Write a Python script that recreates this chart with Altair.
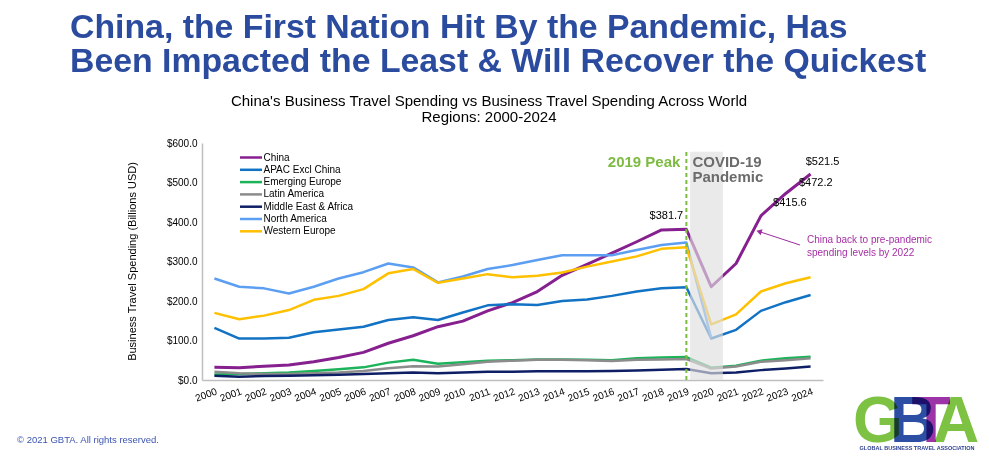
import altair as alt
import pandas as pd

FONT = "Liberation Sans"

years = list(range(2000, 2025))
series_names = ["China", "APAC Excl China", "Emerging Europe", "Latin America",
                "Middle East & Africa", "North America", "Western Europe"]
series_colors = ["#86208f", "#1272c4", "#1db35a", "#8c8c8c", "#0f1f66", "#5c9ff2", "#ffc000"]

china = [32, 31, 35, 38, 46, 57, 70, 93, 112, 135, 149, 175, 196, 224, 265, 293, 321, 350, 380,
         381.7, 236, 295, 415.6, 472.2, 521.5]
apac = [132, 105, 105, 107, 121, 128, 135, 152, 159, 152, 171, 189, 192, 190, 200, 204, 213, 224, 232,
        235, 105, 127, 175, 197, 215]
emerging_europe = [14, 15, 17, 19, 23, 27, 32, 44, 51, 41, 45, 49, 50, 52, 52, 51, 50, 55, 57,
                   58, 31, 36, 49, 55, 59]
latin_america = [21, 17, 15, 15, 17, 19, 23, 30, 35, 34, 40, 46, 49, 51, 51, 50, 48, 51, 52,
                 53, 29, 34, 46, 50, 55]
middle_east_africa = [11, 8, 10, 11, 12, 13, 15, 17, 19, 17, 19, 21, 21, 22, 22, 22, 23, 24, 26,
                      28, 17, 19, 25, 29, 34]
north_america = [257, 236, 232, 219, 236, 257, 273, 295, 285, 247, 262, 281, 291, 304, 316, 316, 316, 329, 342,
                 348, 107, None, None, None, None]
western_europe = [170, 154, 163, 177, 203, 213, 230, 270, 281, 246, 257, 268, 260, 264, 272, 287, 300, 313, 332,
                  336, 141, 166, 224, 245, 260]

all_series = [china, apac, emerging_europe, latin_america, middle_east_africa, north_america, western_europe]

rows = []
for name, vals in zip(series_names, all_series):
    for yr, v in zip(years, vals):
        if v is not None:
            rows.append({"year": yr, "series": name, "value": v})
df = pd.DataFrame(rows)

y_ticks = [0, 100, 200, 300, 400, 500, 600]
one = pd.DataFrame({"a": [0]})

X_SCALE = alt.Scale(domain=[1999.5, 2024.5], nice=False, zero=False)
Y_SCALE = alt.Scale(domain=[0, 600], nice=False)
X_AXIS = alt.Axis(values=years, format="d", labelAngle=340, labelAlign="right",
                  labelBaseline="top", labelPadding=6, labelFontSize=10, labelColor="#000000",
                  labelFont=FONT, ticks=False, grid=False, domainColor="#bfbfbf",
                  domainWidth=1.5, labelOverlap=False, labelFlush=False, labelBound=False, title=None)
Y_AXIS = alt.Axis(values=y_ticks, format="$.1f", labelFontSize=10, labelColor="#000000",
                  labelFont=FONT, labelPadding=5, ticks=False, grid=False,
                  domainColor="#bfbfbf", domainWidth=1.5, labelOverlap=False,
                  title="Business Travel Spending (Billions USD)", titleFont=FONT,
                  titleFontSize=11, titleFontWeight="normal", titleColor="#000000",
                  titleX=-70, titleY=118, titleBaseline="middle", titleAlign="center")

lines = alt.Chart(df).mark_line(strokeJoin="round").encode(
    x=alt.X("year:Q", scale=X_SCALE, axis=X_AXIS),
    y=alt.Y("value:Q", scale=Y_SCALE, axis=Y_AXIS),
    color=alt.Color("series:N",
                    scale=alt.Scale(domain=series_names, range=series_colors),
                    sort=series_names,
                    legend=alt.Legend(title=None, orient="none", legendX=42.5, legendY=8,
                                      symbolType="M-2.2,0H2.2", symbolSize=100, symbolStrokeWidth=2.5,
                                      labelFontSize=10, labelFont=FONT, labelColor="#000000",
                                      labelOffset=6, rowPadding=0.3, padding=0)),
    strokeWidth=alt.condition(alt.datum.series == "China", alt.value(3), alt.value(2.5)),
)


def xd(v):
    return alt.XDatum(v, type="quantitative", scale=X_SCALE, axis=X_AXIS)


def yd(v):
    return alt.YDatum(v, type="quantitative", scale=Y_SCALE, axis=Y_AXIS)


shade = alt.Chart(one).mark_rect(color="#dedede", opacity=0.65).encode(
    x=xd(2019.15), x2=alt.X2Datum(2020.47), y=yd(0), y2=alt.Y2Datum(578))

peak_rule = alt.Chart(one).mark_rule(color="#7dbb42", strokeWidth=2, strokeDash=[4, 3]).encode(
    x=xd(2019), y=yd(0), y2=alt.Y2Datum(585))


def text_at(text, x, y, **kw):
    return alt.Chart(one).mark_text(text=text, font=FONT, **kw).encode(x=alt.value(x), y=alt.value(y))


def value_label(year, dx, dy):
    v = china[years.index(year)]
    return alt.Chart(one).mark_text(text=f"${v:.1f}", font=FONT, fontSize=11, color="#000000",
                                    dx=dx, dy=dy).encode(x=xd(year), y=yd(v))


labels = [
    value_label(2019, -20, -13),
    value_label(2022, 29, -13),
    value_label(2023, 30, -10),
    value_label(2024, 12, -12),
]

peak_text = alt.Chart(one).mark_text(text="2019 Peak", font=FONT, fontSize=15, fontWeight="bold",
                                     color="#7dbb42", align="right", baseline="middle", dx=-6).encode(
    x=xd(2019), y=alt.value(19))
covid_text = alt.Chart(one).mark_text(text=["COVID-19", "Pandemic"], font=FONT, fontSize=15,
                                      fontWeight="bold", color="#6b6b6b", align="left",
                                      baseline="middle", lineHeight=15, dx=6).encode(
    x=xd(2019), y=alt.value(19))

arrow_line = alt.Chart(one).mark_rule(color="#9b2c9b", strokeWidth=1).encode(
    x=alt.value(598), y=alt.value(102), x2=alt.value(557), y2=alt.value(88.5))
arrow_head = alt.Chart(one).mark_point(shape="triangle-left", filled=True, size=40, angle=18,
                                       color="#9b2c9b", opacity=1).encode(
    x=alt.value(557), y=alt.value(88.5))
note = text_at(["China back to pre-pandemic", "spending levels by 2022"], 605, 97,
               fontSize=10, color="#a52fa5", align="left", baseline="middle", lineHeight=12.5)

title1 = text_at("China, the First Nation Hit By the Pandemic, Has", -132, -105,
                 fontSize=33.8, fontWeight="bold", color="#2b4c9e", align="left", baseline="alphabetic")
title2 = text_at("Been Impacted the Least & Will Recover the Quickest", -132, -71,
                 fontSize=33.8, fontWeight="bold", color="#2b4c9e", align="left", baseline="alphabetic")
sub = text_at(["China's Business Travel Spending vs Business Travel Spending Across World",
               "Regions: 2000-2024"], 287, -42, fontSize=15, color="#000000", align="center",
              baseline="middle", lineHeight=16)

copyright_t = text_at("© 2021 GBTA. All rights reserved.", -185, 297, fontSize=9.5,
                      color="#3b54b0", align="left", baseline="middle")

logo = [
    text_at("G", 676, 299, fontSize=64, fontWeight="bold", color="#7dc242", align="center",
            baseline="alphabetic", blend="multiply"),
    text_at("B", 711, 299, fontSize=64, fontWeight="bold", color="#2d4fa3", align="center",
            baseline="alphabetic", blend="multiply"),
    text_at("T", 729, 299, fontSize=64, fontWeight="bold", color="#9c33a6", align="center",
            baseline="alphabetic", blend="multiply"),
    text_at("A", 754, 299, fontSize=64, fontWeight="bold", color="#7dc242", align="center",
            baseline="alphabetic", blend="multiply"),
    text_at("GLOBAL BUSINESS TRAVEL ASSOCIATION", 715, 305, fontSize=5.5, fontWeight="bold",
            color="#2b3f8f", align="center", baseline="middle"),
]

chart = alt.layer(
    lines, shade, peak_rule, *labels, peak_text, covid_text, arrow_line, arrow_head, note,
    title1, title2, sub, copyright_t, *logo
).properties(
    width=621, height=237,
    autosize=alt.AutoSizeParams(type="none"),
    padding={"left": 194, "top": 135, "right": 158, "bottom": 75},
    background="#ffffff",
).configure(
    font=FONT,
    view=alt.ViewConfig(stroke=None),
    axis=alt.AxisConfig(labelOverlap=False),
)

chart.save("out.html", embed_options={"renderer": "svg", "actions": False})
